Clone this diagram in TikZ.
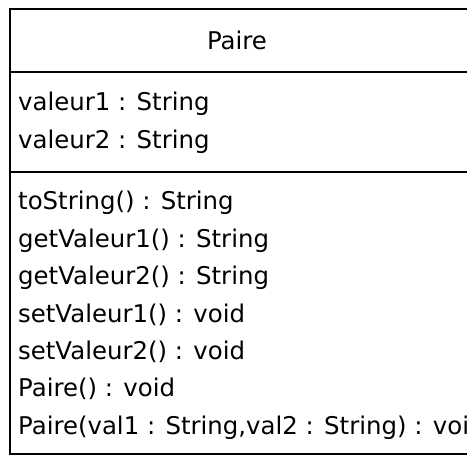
\documentclass[tikz,border=0pt]{standalone}
\usepackage{fontspec}
\newfontfamily\umlfont{DejaVu Sans}
\usetikzlibrary{positioning}

\begin{document}
\begin{tikzpicture}[x=1pt,y=-1pt,node distance=0pt,
 line/.style={draw=black,line width=1.8pt},
 title/.style={anchor=base,inner sep=0pt,font=\umlfont\fontsize{24.4}{28}\selectfont},
 m/.style={anchor=base west,inner sep=0pt,text height=25pt,text depth=12pt,font=\umlfont\fontsize{24.4}{28}\selectfont}]
\useasboundingbox (0,0) rectangle (467,457);
\clip (0,0) rectangle (467,457);
% class box, runs past the right edge
\coordinate (tl) at (10,9);
\coordinate (br) at (490,454);
\coordinate (s1) at (10,72);
\coordinate (s2) at (10,172);
\draw[line] (tl) rectangle (br);
\draw[line] (s1) -- (s1 -| br);
\draw[line] (s2) -- (s2 -| br);
\node[title] (name) at (237,50) {Paire};
% attributes
\node[m] (v1) at (18,111) {valeur1 : String};
\node[m,below=of v1.south west,anchor=north west] (v2) {valeur2 : String};
% operations
\node[m] (o1) at (18,210) {toString() : String};
\node[m,below=of o1.south west,anchor=north west] (o2) {getValeur1() : String};
\node[m,below=of o2.south west,anchor=north west] (o3) {getValeur2() : String};
\node[m,below=of o3.south west,anchor=north west] (o4) {setValeur1() : void};
\node[m,below=of o4.south west,anchor=north west] (o5) {setValeur2() : void};
\node[m,below=of o5.south west,anchor=north west] (o6) {Paire() : void};
\node[m,below=of o6.south west,anchor=north west] (o7) {Paire(val1 : String,val2 : String) : void};
\end{tikzpicture}
\end{document}
